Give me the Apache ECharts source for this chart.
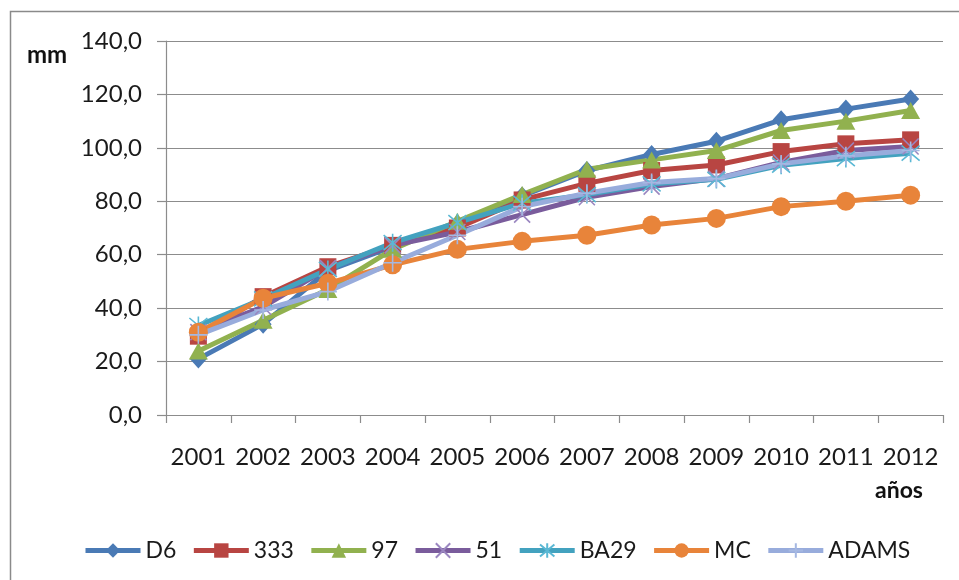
<!DOCTYPE html>
<html>
<head>
<meta charset="utf-8">
<script src="https://cdn.jsdelivr.net/npm/echarts@6/dist/echarts.min.js"></script>
<style>
  html, body { margin: 0; padding: 0; background: #fff; }
  #chart { width: 959px; height: 580px; }
</style>
</head>
<body>
<div id="chart"></div>
<script>
// Años de medición
const years = ['2001', '2002', '2003', '2004', '2005', '2006', '2007', '2008', '2009', '2010', '2011', '2012'];

// Crecimiento acumulado (mm) por clon
const d6    = [21.0, 34.0, 54.0, 63.0, 71.5, 82.0, 91.5, 97.5, 102.5, 110.5, 114.5, 118.3];
const c333  = [29.5, 44.3, 55.5, 63.5, 70.0, 80.5, 86.7, 91.5, 93.6, 98.6, 101.5, 103.0];
const c97   = [24.0, 35.5, 47.0, 62.0, 72.5, 82.5, 92.0, 95.5, 99.0, 106.5, 110.0, 114.0];
const c51   = [31.0, 40.5, 55.0, 63.5, 68.5, 75.0, 81.5, 85.5, 88.5, 94.5, 99.0, 100.5];
const ba29  = [33.5, 43.5, 54.5, 64.5, 72.0, 79.3, 82.5, 86.5, 88.2, 93.5, 96.0, 98.0];
const mc    = [31.0, 43.7, 49.3, 56.2, 62.0, 65.0, 67.3, 71.1, 73.6, 78.0, 80.0, 82.3];
const adams = [30.0, 39.3, 46.2, 57.0, 67.3, 78.0, 83.0, 87.0, 88.5, 94.0, 97.0, 99.0];

// Etiquetas del eje Y
const yTicks = [0, 20, 40, 60, 80, 100, 120, 140];

const FONT = 'Lato, "Open Sans", "Noto Sans", sans-serif';

const X_PATH = 'path://M0,0 L10,10 M10,0 L0,10';
const STAR_PATH = 'path://M0,0 L10,10 M10,0 L0,10 M5,-1 L5,11';
const PLUS_PATH = 'path://M5,0 L5,10 M0,5 L10,5';

function lineSeries(name, data, color, symbol, size, extra) {
  const s = {
    name: name,
    type: 'line',
    data: data,
    symbol: symbol,
    symbolSize: size,
    lineStyle: { color: color, width: 5 },
    itemStyle: { color: color },
    emphasis: { disabled: true },
    animation: false
  };
  return Object.assign(s, extra || {});
}

// Marcadores de solo trazo (aspa, asterisco, cruz)
function strokeSymbol(markColor) {
  return {
    itemStyle: { color: 'none', borderColor: markColor, borderWidth: 1.6 }
  };
}

const chart = echarts.init(document.getElementById('chart'), null, { renderer: 'canvas' });

chart.setOption({
  backgroundColor: '#ffffff',
  animation: false,
  textStyle: { fontFamily: FONT },
  grid: { left: 166, right: 16, top: 41, bottom: 165, containLabel: false },
  xAxis: {
    type: 'category',
    data: years,
    boundaryGap: true,
    axisLine: { lineStyle: { color: '#8c8c8c', width: 1.2 } },
    axisTick: { show: true, length: 8, alignWithLabel: false, lineStyle: { color: '#8c8c8c', width: 1.2 } },
    axisLabel: { color: '#1a1a1a', fontSize: 24, fontFamily: FONT, margin: 30, interval: 0 },
    splitLine: { show: false }
  },
  yAxis: {
    type: 'value',
    min: yTicks[0],
    max: yTicks[yTicks.length - 1],
    interval: yTicks[1] - yTicks[0],
    axisLine: { show: true, lineStyle: { color: '#8c8c8c', width: 1.2 } },
    axisTick: { show: true, length: 9, lineStyle: { color: '#8c8c8c', width: 1.2 } },
    axisLabel: {
      color: '#1a1a1a', fontSize: 24, fontFamily: FONT, margin: 24,
      formatter: v => v.toFixed(1).replace('.', ',')
    },
    splitLine: { show: true, lineStyle: { color: '#8c8c8c', width: 1.2 } }
  },
  legend: {
    left: 78,
    top: 534,
    itemWidth: 55,
    itemHeight: 18,
    itemGap: 15,
    lineStyle: { width: 5 },
    textStyle: { fontSize: 23, fontFamily: FONT, color: '#1a1a1a' },
    data: ['D6', '333', '97', '51', 'BA29', 'MC', 'ADAMS']
  },
  graphic: [
    {
      type: 'rect',
      silent: true,
      shape: { x: 10.5, y: 11.5, width: 1200, height: 1200 },
      style: { fill: 'none', stroke: '#8a8a8a', lineWidth: 1.5 }
    },
    {
      type: 'text',
      left: 27,
      top: 43,
      style: { text: 'mm', fontSize: 24, fontWeight: 'bold', fontFamily: FONT, fill: '#111' }
    },
    {
      type: 'text',
      left: 875,
      top: 479,
      style: { text: 'años', fontSize: 23, fontWeight: 'bold', fontFamily: FONT, fill: '#111' }
    }
  ],
  series: [
    lineSeries('D6', d6, '#4a7ab5', 'diamond', [17, 19]),
    lineSeries('333', c333, '#b84542', 'rect', 17),
    lineSeries('97', c97, '#91b14f', 'triangle', [19, 17]),
    lineSeries('51', c51, '#7a5c9c', X_PATH, 16, strokeSymbol('#9a86c0')),
    lineSeries('BA29', ba29, '#43a2bf', STAR_PATH, 18, strokeSymbol('#5ab8d4')),
    lineSeries('MC', mc, '#e8843a', 'circle', 19),
    lineSeries('ADAMS', adams, '#98acdc', PLUS_PATH, 18, strokeSymbol('#a5b8e2'))
  ]
});
</script>
</body>
</html>
